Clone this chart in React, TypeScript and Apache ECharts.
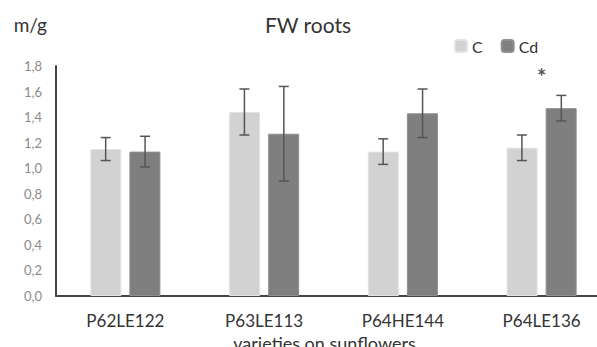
import React, { useEffect, useRef } from "react";
import * as echarts from "echarts";

const categories = ["P62LE122", "P63LE113", "P64HE144", "P64LE136"];
const seriesNames = ["C", "Cd"];
const valuesC = [1.15, 1.44, 1.13, 1.16];
const valuesCd = [1.13, 1.27, 1.43, 1.47];
const errC = [0.09, 0.18, 0.1, 0.1];
const errCd = [0.12, 0.37, 0.19, 0.1];
const yTicks = [0, 0.2, 0.4, 0.6, 0.8, 1.0, 1.2, 1.4, 1.6, 1.8];
const significance = [{ category: 3, value: 1.72, mark: "*" }];

const FONT = "Lato, 'Open Sans', sans-serif";

export default function App() {
  const ref = useRef<HTMLDivElement>(null);
  useEffect(() => {
    if (!ref.current) return;
    const chart = echarts.init(ref.current, undefined, { renderer: "svg" });

    const errData: any[] = [];
    valuesC.forEach((v, i) => errData.push([i, v - errC[i], v + errC[i], 0]));
    valuesCd.forEach((v, i) => errData.push([i, v - errCd[i], v + errCd[i], 1]));

    chart.setOption({
      animation: false,
      textStyle: { fontFamily: FONT },
      title: {
        text: "FW roots",
        left: 303,
        top: 9,
        textAlign: "center",
        textStyle: { fontSize: 21, fontWeight: "normal", color: "#333", fontFamily: FONT },
      },
      legend: {
        data: seriesNames,
        left: 449,
        top: 33,
        itemWidth: 12,
        itemHeight: 12,
        itemGap: 18,
        textStyle: { fontSize: 16, color: "#333", fontFamily: FONT },
      },
      grid: { left: 56, right: -14, top: 66, bottom: 51, containLabel: false, outerBoundsMode: "none" },
      xAxis: {
        type: "category",
        data: categories,
        name: "varieties on sunflowers",
        nameLocation: "middle",
        nameGap: 34,
        nameTextStyle: { fontSize: 18, color: "#333", fontFamily: FONT, padding: [0, 18, 0, 0] },
        axisLine: { lineStyle: { color: "#444", width: 2 } },
        axisTick: { show: false },
        axisLabel: { fontSize: 17, color: "#333", margin: 16, fontFamily: FONT },
      },
      yAxis: {
        type: "value",
        min: 0,
        max: 1.8,
        interval: 0.2,
        name: "m/g",
        nameLocation: "end",
        nameGap: 32,
        nameTextStyle: { fontSize: 19, color: "#333", align: "right", padding: [0, 9, 0, 0], fontFamily: FONT },
        axisLine: { show: true, lineStyle: { color: "#444", width: 2 } },
        axisTick: { show: false },
        splitLine: { show: false },
        axisLabel: {
          fontSize: 13,
          color: "#8a8a8a",
          margin: 14,
          fontFamily: FONT,
          formatter: (v: number) => {
            const t = yTicks.find((x) => Math.abs(x - v) < 1e-6);
            return (t !== undefined ? t : v).toFixed(1).replace(".", ",");
          },
        },
      },
      series: [
        {
          name: "C",
          type: "bar",
          data: valuesC,
          barWidth: 31,
          barGap: "26%",
          itemStyle: { color: "#d2d2d2", borderColor: "#e2e2e2", borderWidth: 1 },
        },
        {
          name: "Cd",
          type: "bar",
          data: valuesCd,
          barWidth: 31,
          barGap: "26%",
          itemStyle: { color: "#7f7f7f", borderColor: "#8f8f8f", borderWidth: 1 },
        },
        {
          type: "custom",
          data: errData,
          z: 10,
          renderItem: (params: any, api: any) => {
            const cat = api.value(0);
            const side = api.value(3);
            const band = api.size([1, 0])[0];
            const off = band * 0.142 * (side === 0 ? -1 : 1);
            const lo = api.coord([cat, api.value(1)]);
            const hi = api.coord([cat, api.value(2)]);
            const x = lo[0] + off;
            const cap = 5;
            const style = { stroke: "#555", lineWidth: 1.5 };
            return {
              type: "group",
              children: [
                { type: "line", shape: { x1: x, y1: lo[1], x2: x, y2: hi[1] }, style },
                { type: "line", shape: { x1: x - cap, y1: lo[1], x2: x + cap, y2: lo[1] }, style },
                { type: "line", shape: { x1: x - cap, y1: hi[1], x2: x + cap, y2: hi[1] }, style },
              ],
            };
          },
        },
        {
          type: "scatter",
          data: significance.map((s) => [s.category, s.value]),
          symbolSize: 0,
          z: 11,
          label: {
            show: true,
            position: "inside",
            formatter: () => significance[0].mark,
            fontSize: 22,
            fontWeight: "bold",
            color: "#222",
            fontFamily: FONT,
          },
        },
      ],
    });
    return () => chart.dispose();
  }, []);
  return <div ref={ref} style={{ width: 597, height: 347, position: "absolute", left: 0, top: 0 }} />;
}
